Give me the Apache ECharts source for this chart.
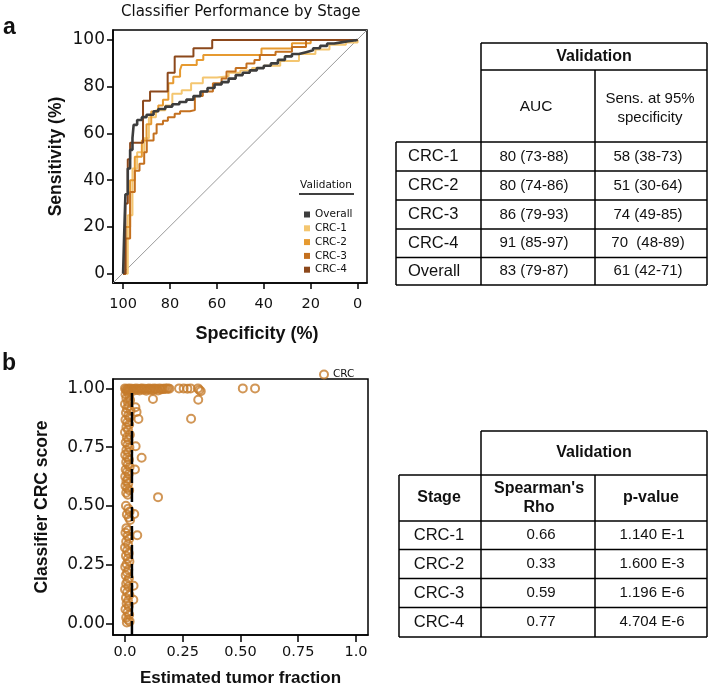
<!DOCTYPE html>
<html>
<head>
<meta charset="utf-8">
<script src="https://cdn.jsdelivr.net/npm/echarts@6/dist/echarts.min.js"></script>
<style>
  html, body { margin: 0; padding: 0; background: #fff; }
  #chart { width: 709px; height: 690px; }
</style>
</head>
<body>
<div id="chart"></div>
<script>
// ---- panel a: ROC curves (specificity where the curve steps, sensitivity after the step)
const rocNames = ['Overall', 'CRC-1', 'CRC-2', 'CRC-3', 'CRC-4'];
const rocColors = ['#3d3d3d', '#f4c670', '#e69a30', '#c4701f', '#8c481b'];

const overallSpec = [100, 99.5, 99, 98, 97, 96, 95.5, 94, 92, 90, 87, 85, 82, 79, 76, 73, 70, 67, 64, 61, 58, 55, 52, 49, 46, 43, 40, 37, 34, 31, 28, 25, 22, 19, 16, 13, 10, 7, 4, 0];
const overallSens = [0, 18, 34, 45, 53, 58, 63.7, 65.8, 67, 68, 69.5, 70.5, 71.5, 72.5, 73.5, 74.5, 76, 78, 79.5, 81, 82, 83.5, 85, 86, 87, 88, 89, 90, 91.5, 93, 94, 94.8, 95.6, 96.5, 97.5, 98.5, 99, 99.5, 100, 100];

const crc1Spec = [100, 98, 96, 94, 91, 89, 86, 82, 79, 75, 71, 66, 60, 55, 50, 45, 40, 33, 25, 18, 12, 5, 0];
const crc1Sens = [0, 25, 45, 52, 58, 67, 70, 72, 77, 78.5, 81.5, 84, 84.5, 86, 87, 88, 89, 91, 94, 96, 98, 99, 100];

const crc2Spec = [100, 99, 97, 95, 92, 90, 88, 85, 83, 80.7, 78.6, 75.7, 75, 68.6, 65.8, 41, 28, 20, 0];
const crc2Sens = [0, 20, 40, 50, 57, 64, 69.4, 72, 74.4, 81.5, 84.3, 87.2, 89.3, 91.5, 93.6, 96.4, 98.6, 100, 100];

const crc3Spec = [100, 99, 97, 95, 93, 91, 89.9, 87, 85.7, 83, 80.9, 78, 75.7, 71.5, 69.4, 66, 61.7, 58, 55.9, 52, 47.4, 44, 41.7, 35, 28, 22, 0];
const crc3Sens = [0, 15, 35, 44, 47, 52, 57, 60, 64, 65.5, 67, 68.5, 69.5, 70, 76, 78, 81.5, 83.5, 86.5, 88, 90, 91.5, 93.6, 95, 97, 100, 100];

const crc4Spec = [100, 99, 98, 97, 91.5, 88.5, 81, 78, 70, 62, 0];
const crc4Sens = [0, 30, 49, 56, 74, 78, 86, 93, 96.5, 100, 100];

const pctTicks = [0, 20, 40, 60, 80, 100];

// ---- panel a table
const aStages = ['CRC-1', 'CRC-2', 'CRC-3', 'CRC-4', 'Overall'];
const aAuc = ['80 (73-88)', '80 (74-86)', '86 (79-93)', '91 (85-97)', '83 (79-87)'];
const aSens95 = ['58 (38-73)', '51 (30-64)', '74 (49-85)', '70  (48-89)', '61 (42-71)'];

// ---- panel b: tumor fraction vs classifier score
const topBand = [[0.000,1.000],[0.004,0.996],[0.008,0.992],[0.012,0.998],[0.016,0.990],[0.020,1.000],[0.026,0.994],[0.031,0.999],[0.036,0.990],[0.041,0.997],[0.047,1.000],[0.052,0.993],[0.058,0.999],[0.063,0.991],[0.069,0.998],[0.074,1.000],[0.080,0.994],[0.086,0.999],[0.092,0.990],[0.097,0.997],[0.103,1.000],[0.109,0.994],[0.114,0.999],[0.120,0.992],[0.126,1.000],[0.131,0.996],[0.137,0.999],[0.143,0.991],[0.149,1.000],[0.155,0.995],[0.161,0.999],[0.167,0.997],[0.173,1.000],[0.180,0.998],[0.186,1.000],[0.192,0.999],[0.234,1.000],[0.254,1.000],[0.270,0.999],[0.284,1.000],[0.316,1.000],[0.322,0.993],[0.328,0.988],[0.510,1.000],[0.563,1.000]];
const column = [[0.010,0.985],[0.002,0.975],[0.018,0.968],[0.006,0.958],[0.022,0.950],[0.012,0.942],[0.000,0.933],[0.016,0.925],[0.008,0.915],[0.024,0.905],[0.004,0.896],[0.014,0.885],[0.020,0.876],[0.002,0.866],[0.010,0.856],[0.018,0.846],[0.006,0.835],[0.013,0.824],[0.000,0.813],[0.021,0.803],[0.008,0.792],[0.015,0.781],[0.003,0.770],[0.011,0.760],[0.019,0.749],[0.006,0.738],[0.014,0.728],[0.001,0.717],[0.010,0.707],[0.017,0.696],[0.005,0.686],[0.012,0.676],[0.020,0.665],[0.003,0.655],[0.009,0.645],[0.016,0.635],[0.001,0.625],[0.011,0.615],[0.006,0.605],[0.014,0.595],[0.002,0.585],[0.010,0.575],[0.018,0.566],[0.005,0.556],[0.012,0.547],[0.004,0.500],[0.014,0.488],[0.020,0.476],[0.008,0.463],[0.016,0.450],[0.022,0.440],[0.006,0.405],[0.014,0.396],[0.002,0.385],[0.011,0.372],[0.018,0.360],[0.005,0.348],[0.013,0.335],[0.000,0.322],[0.009,0.310],[0.016,0.298],[0.004,0.287],[0.012,0.275],[0.019,0.263],[0.007,0.252],[0.001,0.240],[0.014,0.228],[0.009,0.216],[0.003,0.204],[0.017,0.192],[0.011,0.180],[0.005,0.168],[0.015,0.156],[0.000,0.144],[0.009,0.132],[0.019,0.120],[0.004,0.108],[0.013,0.096],[0.007,0.084],[0.016,0.072],[0.002,0.060],[0.011,0.048],[0.018,0.036],[0.005,0.024],[0.013,0.015],[0.020,0.008],[0.008,0.003]];
const outliers = [[0.121,0.955],[0.317,0.952],[0.286,0.871],[0.143,0.537],[0.072,0.705],[0.046,0.754],[0.058,0.870],[0.053,0.375],[0.036,0.100],[0.043,0.655],[0.050,0.900],[0.045,0.920],[0.040,0.465],[0.037,0.160]];
const fitLineX = 0.03;

const fracTicks = [0, 0.25, 0.5, 0.75, 1];
const fracTickLabels = ['0.0', '0.25', '0.50', '0.75', '1.0'];
const scoreTicks = [0, 0.25, 0.5, 0.75, 1];
const scoreTickLabels = ['0.00', '0.25', '0.50', '0.75', '1.00'];

// ---- panel b table
const bStages = ['CRC-1', 'CRC-2', 'CRC-3', 'CRC-4'];
const bRho = ['0.66', '0.33', '0.59', '0.77'];
const bPval = ['1.140 E-1', '1.600 E-3', '1.196 E-6', '4.704 E-6'];

const ink = '#111';
const pointColor = '#c57c2c';
const plotFont = 'DejaVu Sans';
const tableFont = 'Liberation Sans';

const rocSpec = [overallSpec, crc1Spec, crc2Spec, crc3Spec, crc4Spec];
const rocSens = [overallSens, crc1Sens, crc2Sens, crc3Sens, crc4Sens];

function hline(x1, x2, y) {
  return { type: 'line', silent: true, shape: { x1: x1, y1: y, x2: x2, y2: y }, style: { stroke: '#000', lineWidth: 1.5 } };
}
function vline(x, y1, y2) {
  return { type: 'line', silent: true, shape: { x1: x, y1: y1, x2: x, y2: y2 }, style: { stroke: '#000', lineWidth: 1.5 } };
}
function txt(x, y, text, size, bold, align, family) {
  return {
    type: 'text', x: x, y: y, silent: true,
    style: {
      text: text, fontSize: size, fontWeight: bold ? 'bold' : 'normal',
      fontFamily: family || tableFont, fill: ink,
      align: align || 'center', verticalAlign: 'middle'
    }
  };
}

let graphics = [];
// panel letters
graphics.push(txt(3, 28, 'a', 23, true, 'left', tableFont));
graphics.push(txt(2, 364, 'b', 23, true, 'left', tableFont));
// legend title of panel a
graphics.push(txt(326, 185, 'Validation', 10.5, false, 'center', plotFont));
graphics.push(hline(299, 354, 194));

// table a
const aRowY = [142, 171, 200, 229, 257.5, 285];
graphics.push(hline(481, 707, 43), hline(481, 707, 70));
aRowY.forEach(y => graphics.push(hline(396, 707, y)));
graphics.push(vline(481, 43, 285), vline(707, 43, 285), vline(595, 70, 285), vline(396, 142, 285));
graphics.push(txt(594, 57, 'Validation', 16, true));
graphics.push(txt(536, 107, 'AUC', 15.5));
graphics.push(txt(650, 99, 'Sens. at 95%', 15));
graphics.push(txt(650, 118, 'specificity', 15));
aStages.forEach((s, i) => {
  const cy = (aRowY[i] + aRowY[i + 1]) / 2;
  graphics.push(txt(408, cy, s, 16.5, false, 'left'));
  graphics.push(txt(534, cy, aAuc[i], 15));
  graphics.push(txt(648, cy, aSens95[i], 15));
});

// table b
const bRowY = [521, 549.5, 578.5, 607.5, 637];
graphics.push(hline(481, 707, 431), hline(399, 707, 475));
bRowY.forEach(y => graphics.push(hline(399, 707, y)));
graphics.push(vline(481, 431, 637), vline(707, 431, 637), vline(595, 475, 637), vline(399, 475, 637));
graphics.push(txt(594, 453, 'Validation', 16, true));
graphics.push(txt(439, 498, 'Stage', 16, true));
graphics.push(txt(539, 489, "Spearman's", 16, true));
graphics.push(txt(539, 508, 'Rho', 16, true));
graphics.push(txt(651, 498, 'p-value', 16, true));
bStages.forEach((s, i) => {
  const cy = (bRowY[i] + bRowY[i + 1]) / 2;
  graphics.push(txt(439, cy, s, 16.5));
  graphics.push(txt(541, cy, bRho[i], 15));
  graphics.push(txt(652, cy, bPval[i], 15));
});

const axisCommon = {
  axisLine: { show: true, onZero: false, lineStyle: { color: '#000', width: 1.5 } },
  splitLine: { show: false }
};

let series = [];
// diagonal reference line
series.push({
  type: 'line', xAxisIndex: 0, yAxisIndex: 0, silent: true, symbol: 'none',
  data: [[104.3, -4], [-4, 104.3]],
  lineStyle: { color: '#9a9a9a', width: 1 }
});
// CRC stages first, overall on top
[1, 2, 3, 4, 0].forEach(k => {
  series.push({
    name: rocNames[k], type: 'line', xAxisIndex: 0, yAxisIndex: 0,
    step: 'end', symbol: 'none',
    data: rocSpec[k].map((s, i) => [s, rocSens[k][i]]),
    itemStyle: { color: rocColors[k] },
    lineStyle: { color: rocColors[k], width: k === 0 ? 2.6 : 2 }
  });
});
series.push({
  name: 'CRC', type: 'scatter', xAxisIndex: 1, yAxisIndex: 1,
  symbol: 'circle', symbolSize: 8,
  data: topBand.concat(column, outliers),
  itemStyle: { color: 'rgba(0,0,0,0)', borderColor: pointColor, borderWidth: 2 }
});
series.push({
  type: 'line', xAxisIndex: 1, yAxisIndex: 1, silent: true, symbol: 'none', z: 3,
  data: [[fitLineX, -0.05], [fitLineX, 1.0]],
  lineStyle: { color: '#000', width: 2.5, type: [14, 5] }
});

const chart = echarts.init(document.getElementById('chart'), null, { renderer: 'canvas' });
chart.setOption({
  animation: false,
  backgroundColor: '#fff',
  title: {
    text: 'Classifier Performance by Stage', left: 116, top: 0,
    textStyle: { fontSize: 15, fontWeight: 'normal', fontFamily: plotFont, color: ink }
  },
  legend: [
    {
      data: rocNames, orient: 'vertical', left: 299, top: 204,
      icon: 'rect', itemWidth: 6, itemHeight: 6, itemGap: 2.8, selectedMode: false,
      textStyle: { fontSize: 10.5, fontFamily: plotFont, color: ink, lineHeight: 10 }
    },
    {
      data: [{ name: 'CRC', icon: 'circle', itemStyle: { color: 'rgba(0,0,0,0)', borderColor: pointColor, borderWidth: 2 } }],
      left: 314, top: 364, itemWidth: 8, itemHeight: 8, selectedMode: false,
      textStyle: { fontSize: 10.5, fontFamily: plotFont, color: ink }
    }
  ],
  grid: [
    { left: 113, top: 30, width: 254, height: 253, show: true, borderColor: '#000', borderWidth: 1.5 },
    { left: 113, top: 379, width: 255, height: 256, show: true, borderColor: '#000', borderWidth: 1.5 }
  ],
  xAxis: [
    Object.assign({}, axisCommon, {
      gridIndex: 0, type: 'value', inverse: true, min: -4, max: 104.3,
      axisTick: { show: true, inside: false, length: 6, customValues: pctTicks, lineStyle: { color: '#000', width: 1.5 } },
      axisLabel: { customValues: pctTicks, margin: 14, fontSize: 14.5, fontFamily: plotFont, color: ink },
      name: 'Specificity (%)', nameLocation: 'middle', nameGap: 42,
      nameTextStyle: { fontSize: 18, fontWeight: 'bold', fontFamily: tableFont, color: ink, padding: [0, 0, 0, 34] }
    }),
    Object.assign({}, axisCommon, {
      gridIndex: 1, type: 'value', min: -0.052, max: 1.052,
      axisTick: { show: true, inside: false, length: 7, customValues: fracTicks, lineStyle: { color: '#000', width: 1.5 } },
      axisLabel: {
        customValues: fracTicks, margin: 10, fontSize: 14.5, fontFamily: plotFont, color: ink,
        formatter: v => fracTickLabels[fracTicks.indexOf(v)]
      },
      name: 'Estimated tumor fraction', nameLocation: 'middle', nameGap: 35,
      nameTextStyle: { fontSize: 17, fontWeight: 'bold', fontFamily: tableFont, color: ink }
    })
  ],
  yAxis: [
    Object.assign({}, axisCommon, {
      gridIndex: 0, type: 'value', min: -4, max: 104.3,
      axisTick: { show: true, inside: false, length: 6, customValues: pctTicks, lineStyle: { color: '#000', width: 1.5 } },
      axisLabel: { customValues: pctTicks, margin: 8, fontSize: 17, fontFamily: plotFont, color: ink },
      name: 'Sensitivity (%)', nameLocation: 'middle', nameGap: 48,
      nameTextStyle: { fontSize: 17.5, fontWeight: 'bold', fontFamily: tableFont, color: ink }
    }),
    Object.assign({}, axisCommon, {
      gridIndex: 1, type: 'value', min: -0.05, max: 1.04,
      axisTick: { show: true, inside: false, length: 7, customValues: scoreTicks, lineStyle: { color: '#000', width: 1.5 } },
      axisLabel: {
        customValues: scoreTicks, margin: 8, fontSize: 17, fontFamily: plotFont, color: ink,
        formatter: v => scoreTickLabels[scoreTicks.indexOf(v)]
      },
      name: 'Classifier CRC score', nameLocation: 'middle', nameGap: 62,
      nameTextStyle: { fontSize: 17.5, fontWeight: 'bold', fontFamily: tableFont, color: ink }
    })
  ],
  graphic: graphics,
  series: series
});
</script>
</body>
</html>
